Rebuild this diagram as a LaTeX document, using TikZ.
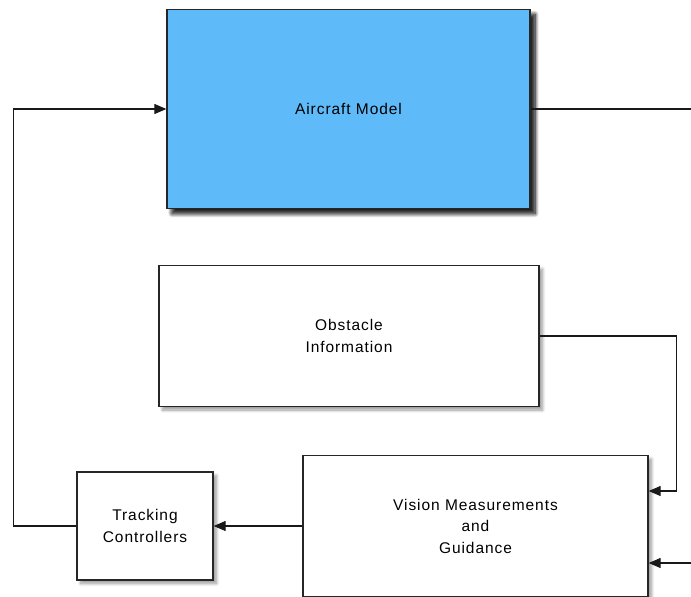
\documentclass[tikz,border=0pt]{standalone}
\usepackage{fontspec}
\setmainfont[LetterSpace=6]{Liberation Sans}
\usetikzlibrary{arrows.meta,shadows.blur,calc}
\definecolor{airblue}{HTML}{5FBAF9}
\begin{document}
\begin{tikzpicture}[x=1pt,y=-1pt,
  blk/.style={draw=black!85,line width=1.3pt,rectangle,fill=white,align=center,
    font=\fontsize{15.5pt}{21.5pt}\selectfont,
    blur shadow={shadow xshift=3.5pt,shadow yshift=-3.5pt,shadow blur steps=8,shadow blur radius=3pt,shadow opacity=40}},
  bigblk/.style={blk,
    blur shadow={shadow xshift=5pt,shadow yshift=-5pt,shadow blur steps=8,shadow blur radius=4pt,shadow opacity=65}},
  conn/.style={line width=1.1pt,draw=black!90},
  arr/.style={conn,-{Triangle[length=12pt,width=10pt]}}]
\useasboundingbox (0,0) rectangle (691,597);
\node[bigblk,fill=airblue,minimum width=363pt,minimum height=199pt] (air) at (348.5,109) {Aircraft Model};
\node[blk,minimum width=380pt,minimum height=141pt] (obs) at (349,336) {Obstacle\\Information};
\node[blk,minimum width=345pt,minimum height=141pt] (vis) at (475.5,526) {Vision Measurements\\and\\Guidance};
\node[blk,minimum width=136pt,minimum height=108pt] (trk) at (145,526) {Tracking\\Controllers};
\coordinate (outR) at (691,109);
\coordinate (inR) at (691,563);
\coordinate (visA) at ($(vis.east)+(0,-35)$);
\coordinate (visB) at (inR -| vis.east);
\draw[conn] (air.east) -- (outR);
\draw[arr] (obs.east) -- ++(137,0) |- (visA);
\draw[arr] (inR) -- (visB);
\draw[arr] (vis.west) -- (trk.east);
\draw[arr] (trk.west) -- ++(-63,0) |- (air.west);
\end{tikzpicture}
\end{document}
